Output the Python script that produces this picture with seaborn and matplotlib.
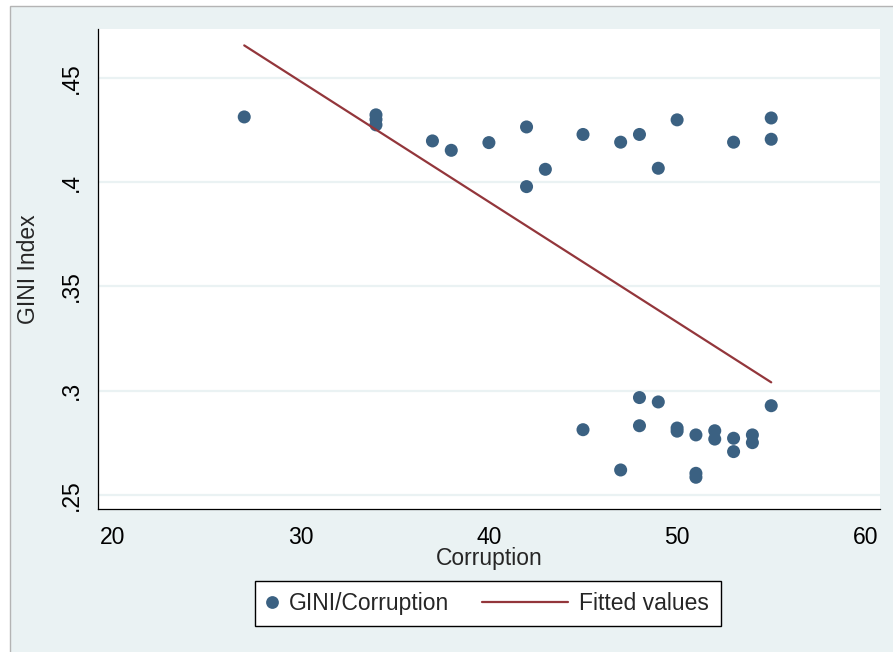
import matplotlib
matplotlib.use("Agg")
import matplotlib.pyplot as plt
import seaborn as sns
import numpy as np
import pandas as pd
from matplotlib.lines import Line2D
from matplotlib.patches import Rectangle

# ---------------- data ----------------
corruption = [27, 34, 34, 34, 37, 38, 40, 42, 42, 43, 45, 45, 47, 47, 48, 48, 48,
              49, 49, 50, 50, 50, 51, 51, 51, 52, 52, 53, 53, 53, 54, 54, 55, 55, 55]
gini = [0.4312, 0.4322, 0.4300, 0.4274, 0.4197, 0.4152, 0.4189, 0.4264, 0.3978,
        0.4061, 0.4228, 0.2813, 0.4191, 0.2620, 0.4228, 0.2967, 0.2832, 0.4066,
        0.2946, 0.4298, 0.2821, 0.2806, 0.2788, 0.2604, 0.2585, 0.2808, 0.2768,
        0.4191, 0.2772, 0.2708, 0.2788, 0.2751, 0.4307, 0.4205, 0.2928]
xticks = [20, 30, 40, 50, 60]
yticks = [0.25, 0.30, 0.35, 0.40, 0.45]
ytick_labels = [".25", ".3", ".35", ".4", ".45"]
series_labels = ["GINI/Corruption", "Fitted values"]

df = pd.DataFrame({"Corruption": corruption, "GINI": gini})

# ---------------- style ----------------
BG = "#EAF2F3"
PT = "#3B6182"
LN = "#93363B"
FS = 16.5
sns.set_style("white")
plt.rcParams["font.family"] = ["Liberation Sans", "DejaVu Sans"]

fig = plt.figure(figsize=(8.93, 6.52), dpi=100, facecolor="white")
fig.add_artist(Rectangle((9.5 / 893, -0.02), 1.05, 1 - 5.5 / 652 + 0.02,
                         transform=fig.transFigure, facecolor=BG,
                         edgecolor="#B4B4B4", lw=1.0, zorder=-10))

ax = fig.add_axes([98 / 893, 1 - 509.3 / 652, (880 - 98) / 893, (509.3 - 29.3) / 652])
ax.set_facecolor("white")

sns.scatterplot(data=df, x="Corruption", y="GINI", ax=ax, color=PT, s=88,
                edgecolor="none", linewidth=0, zorder=2, legend=False)
sns.regplot(data=df, x="Corruption", y="GINI", ax=ax, scatter=False, ci=None,
            truncate=True, color=LN, line_kws=dict(lw=1.6, zorder=3))

ax.set_xlim(19.23, 60.78)
ax.set_ylim(0.24315, 0.4732)
ax.set_xticks(xticks)
ax.set_xticklabels([str(v) for v in xticks])
ax.set_yticks(yticks)
ax.set_yticklabels(ytick_labels)
plt.setp(ax.get_yticklabels(), rotation=90, va="center")

ax.yaxis.grid(True, color=BG, lw=1.6)
ax.xaxis.grid(False)
ax.set_axisbelow(True)
for s in ["top", "right"]:
    ax.spines[s].set_visible(False)
for s in ["left", "bottom"]:
    ax.spines[s].set_color("black")
    ax.spines[s].set_linewidth(0.9)

ax.tick_params(axis="both", direction="out", length=7, width=0.8, color="black",
               labelsize=FS, labelcolor="black")
ax.tick_params(axis="x", pad=5)
ax.tick_params(axis="y", pad=4)
ax.set_xlabel("Corruption", fontsize=FS, labelpad=-1.5)
ax.set_ylabel("GINI Index", fontsize=FS, labelpad=14.5)


# ---------------- legend ----------------
class LongLineHandler:
    def __init__(self, extra):
        self.extra = extra

    def legend_artist(self, legend, orig_handle, fontsize, handlebox):
        x0, y0 = handlebox.xdescent, handlebox.ydescent
        w, h = handlebox.width, handlebox.height
        ln = Line2D([x0 - self.extra, x0 + w], [y0 + h / 2, y0 + h / 2],
                    color=orig_handle.get_color(), lw=orig_handle.get_linewidth(),
                    transform=handlebox.get_transform())
        handlebox.add_artist(ln)
        return ln


h_pt = Line2D([], [], marker="o", ls="", color=PT, markeredgewidth=0, markersize=9.2)
h_ln = Line2D([], [], color=LN, lw=1.6)
leg = ax.legend([h_pt, h_ln], series_labels, ncol=2, fontsize=FS,
                loc="center", bbox_to_anchor=(488 / 893, 1 - 603.5 / 652),
                bbox_transform=fig.transFigure, frameon=True, fancybox=False,
                edgecolor="black", facecolor="white", framealpha=1,
                borderpad=0.5, handlelength=0.5, handletextpad=0.48,
                columnspacing=4.69, borderaxespad=0,
                handler_map={h_ln: LongLineHandler(53.6)})
leg.get_frame().set_linewidth(1.0)

fig.savefig("out.png", dpi=100, facecolor=fig.get_facecolor())
